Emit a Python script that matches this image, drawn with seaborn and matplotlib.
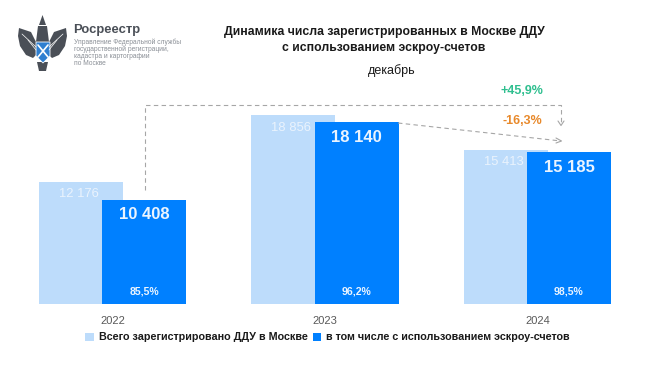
import numpy as np
import matplotlib
matplotlib.use('Agg')
import matplotlib.pyplot as plt
from matplotlib.patches import Polygon
from matplotlib.transforms import Affine2D
import seaborn as sns

years = [2022, 2023, 2024]
total_ddu = [12176, 18856, 15413]
escrow_ddu = [10408, 18140, 15185]
total_labels = ['12 176', '18 856', '15 413']
escrow_labels = ['10 408', '18 140', '15 185']
escrow_share = ['85,5%', '96,2%', '98,5%']

title_lines = ['Динамика числа зарегистрированных в Москве ДДУ', 'с использованием эскроу-счетов']
subtitle = 'декабрь'
change_total = '+45,9%'
change_year = '-16,3%'
legend_total = 'Всего зарегистрировано ДДУ в Москве'
legend_escrow = 'в том числе с использованием эскроу-счетов'
org_name = 'Росреестр'
org_lines = ['Управление Федеральной службы', 'государственной регистрации,', 'кадастра и картографии', 'по Москве']

LIGHT = '#BDDCFB'
DARK = '#0080FF'
W, H = 650, 366
BASE_Y = 304
YEAR_STEP = 212.5
SHIFT = 31.5 / YEAR_STEP
BAR_W = 84 / YEAR_STEP

sns.set_theme(style='white')
plt.rcParams['font.family'] = ['Liberation Sans', 'DejaVu Sans']

fig = plt.figure(figsize=(W / 100, H / 100), dpi=100, facecolor='white')
ax = fig.add_axes([0, (H - BASE_Y) / H, 1, BASE_Y / H])
ax.patch.set_alpha(0)

# pixel coordinates of the reference, origin top left
px = Affine2D().scale(1 / W, -1 / H).translate(0, 1) + fig.transFigure


def put(x, y, s, **kw):
    kw.setdefault('ha', 'center')
    kw.setdefault('va', 'center')
    fig.text(x, y, s, transform=px, **kw)


sns.barplot(x=np.array(years) - SHIFT, y=total_ddu, native_scale=True, width=BAR_W,
            color=LIGHT, saturation=1, label=legend_total, ax=ax, legend=False, linewidth=0)
sns.barplot(x=np.array(years) + SHIFT, y=escrow_ddu, native_scale=True, width=BAR_W,
            color=DARK, saturation=1, label=legend_escrow, ax=ax, legend=False, linewidth=0)

ax.set_xlim(2022 - 112.5 / YEAR_STEP, 2022 + (W - 112.5) / YEAR_STEP)
ax.set_ylim(0, BASE_Y / 0.01002)
sns.despine(ax=ax, left=True, bottom=True, top=True, right=True)
ax.set_yticks([])
ax.set_xticks(years)
ax.set_xticklabels(years)
ax.tick_params(axis='x', length=0, pad=9, labelsize=8, labelcolor='#595959')
ax.set_xlabel('')
ax.set_ylabel('')

# value labels on the bars
for year, tot, esc, tot_lab, esc_lab, share in zip(years, total_ddu, escrow_ddu, total_labels, escrow_labels, escrow_share):
    ax.annotate(tot_lab, (year - SHIFT, tot), xytext=(-1.5, -9), textcoords='offset points',
                ha='center', va='center', fontsize=9.4, color='#EAF3FD')
    ax.annotate(esc_lab, (year + SHIFT, esc), xytext=(0, -11), textcoords='offset points',
                ha='center', va='center', fontsize=12, fontweight='bold', color='#EAF4FF')
    ax.annotate(share, (year + SHIFT, 0), xytext=(0, 9), textcoords='offset points',
                ha='center', va='center', fontsize=7.6, fontweight='bold', color='#EAF4FF')

# titles
put(384, 32, title_lines[0], fontsize=8.85, fontweight='bold', color='#1a1a1a')
put(384, 48, title_lines[1], fontsize=8.85, fontweight='bold', color='#1a1a1a')
put(392, 71, subtitle, fontsize=9, color='#1a1a1a')

# change arrows
dash = dict(color='#A6A6A6', lw=0.8, ls=(0, (4, 3)), transform=px)
fig.add_artist(plt.Line2D([145, 145, 561, 561], [190, 104.5, 104.5, 125], **dash))
fig.add_artist(plt.Line2D([558, 561, 564], [121, 125.5, 121], color='#A6A6A6', lw=0.8, transform=px))
fig.add_artist(plt.Line2D([398, 561], [123, 141], **dash))
fig.add_artist(plt.Line2D([556, 561.5, 556], [138, 141, 143], color='#A6A6A6', lw=0.8, transform=px))
put(522, 91.5, change_total, fontsize=9, fontweight='bold', color='#2FBF8F')
put(522, 120.5, change_year, fontsize=9, fontweight='bold', color='#E8892B')

# legend
handles, labels = ax.get_legend_handles_labels()
leg = fig.legend(handles[:2], labels[:2], ncol=2, loc='center', bbox_to_anchor=(327.5 / W, 1 - 337.5 / H),
                 frameon=False, fontsize=7.75, handlelength=0.8, handleheight=0.8, handletextpad=0.45,
                 columnspacing=0.45, borderpad=0)
for t in leg.get_texts():
    t.set_fontweight('bold')
    t.set_color('#1a1a1a')

# emblem
grey = '#4A4F57'
wing_l = [(37, 44), (31, 32), (19, 28), (18, 36), (20, 46), (26, 55), (33, 58), (37, 54)]
wing_r = [(2 * 42.5 - x, y) for x, y in wing_l]
for pts in (wing_l, wing_r):
    fig.add_artist(Polygon(pts, closed=True, fc=grey, ec='none', transform=px))
for off in (0, 6):
    fig.add_artist(plt.Line2D([22 + off, 36], [34 + off, 47 + off / 2], color='white', lw=0.5, transform=px))
    fig.add_artist(plt.Line2D([63 - off, 49], [34 + off, 47 + off / 2], color='white', lw=0.5, transform=px))
fig.add_artist(Polygon([(38, 26), (47, 26), (49, 42), (36, 42)], closed=True, fc=grey, ec='none', transform=px))
fig.add_artist(Polygon([(39, 25), (42.5, 15), (46, 25)], closed=True, fc=grey, ec='none', transform=px))
fig.add_artist(Polygon([(37, 62), (48, 62), (46, 71), (39, 71)], closed=True, fc=grey, ec='none', transform=px))
fig.add_artist(Polygon([(36, 42), (50, 42), (50, 56), (43, 63), (36, 56)], closed=True, fc='#2F7FD0', ec='white', lw=0.6, transform=px))
fig.add_artist(plt.Line2D([38, 48], [45, 57], color='white', lw=1.2, transform=px))
fig.add_artist(plt.Line2D([48, 38], [45, 57], color='white', lw=1.2, transform=px))

put(73, 30, org_name, fontsize=9.4, fontweight='bold', color='#4A4F57', ha='left')
for line, y in zip(org_lines, [42, 49.5, 56.5, 63.5]):
    put(74, y, line, fontsize=4.8, color='#8A8F96', ha='left')

fig.savefig('out.png', dpi=100)
